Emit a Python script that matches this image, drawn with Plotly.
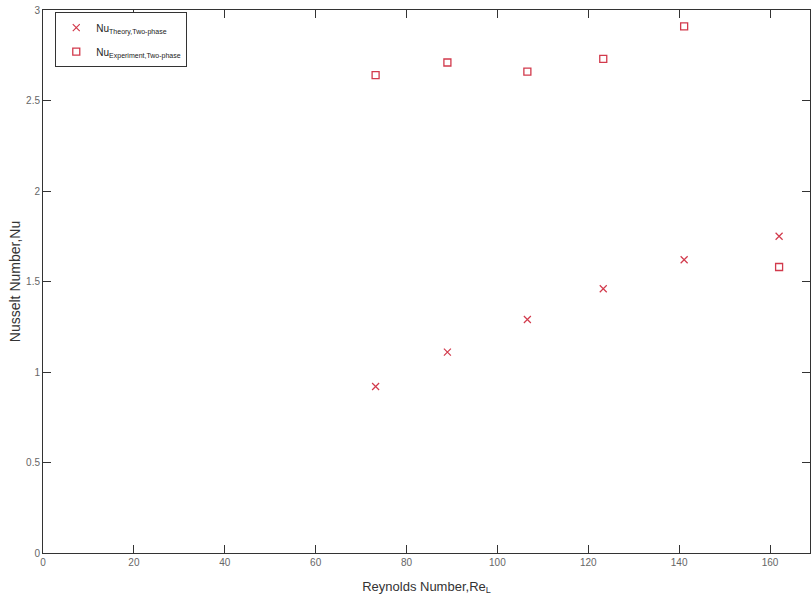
import plotly.graph_objects as go

reynolds = [73.2, 89.0, 106.6, 123.3, 141.1, 162.0]
nu_theory = [0.92, 1.11, 1.29, 1.46, 1.62, 1.75]
nu_experiment = [2.64, 2.71, 2.66, 2.73, 2.91, 1.58]

x_ticks = [0, 20, 40, 60, 80, 100, 120, 140, 160]
y_ticks = [0, 0.5, 1, 1.5, 2, 2.5, 3]
y_tick_text = ["0", "0.5", "1", "1.5", "2", "2.5", "3"]

red = "#d23a4c"
font_fam = "Liberation Sans Narrow, Arial Narrow, Liberation Sans, Arial, sans-serif"

fig = go.Figure()
fig.add_trace(go.Scatter(
    x=reynolds, y=nu_theory, mode="markers",
    name="Nu<sub>Theory,Two-phase</sub>", legendgroup="a",
    marker=dict(symbol="x-thin-open", size=7, color=red, line=dict(color=red, width=1.2)),
))
fig.add_trace(go.Scatter(
    x=reynolds, y=nu_experiment, mode="markers",
    name="Nu<sub>Experiment,Two-phase</sub>", legendgroup="b",
    marker=dict(symbol="square-open", size=7, color=red, line=dict(color=red, width=1.3)),
))

axis_common = dict(
    showgrid=False, zeroline=False, showline=True, linecolor="#333", linewidth=1,
    mirror="ticks", ticks="inside", ticklen=8, tickcolor="#333", tickwidth=1,
    tickfont=dict(family=font_fam, size=10, color="#666"),
    automargin=False,
)

fig.update_layout(
    width=811, height=606,
    margin=dict(l=43, r=1, t=10, b=53),
    paper_bgcolor="white", plot_bgcolor="white",
    showlegend=True,
    legend=dict(
        x=0.016, y=0.996, xanchor="left", yanchor="top",
        bordercolor="#333", borderwidth=1, bgcolor="white",
        font=dict(family=font_fam, size=10, color="#222"),
        tracegroupgap=5, itemwidth=30,
    ),
    xaxis=dict(
        range=[0, 168.8], tickvals=x_ticks,
        title=dict(text="Reynolds Number,Re<sub>L</sub>", font=dict(family=font_fam, size=13, color="#333"), standoff=14),
        **axis_common,
    ),
    yaxis=dict(
        range=[0, 3], tickvals=y_ticks, ticktext=y_tick_text,
        title=dict(text="Nusselt Number,Nu", font=dict(family="Liberation Sans, Arial, sans-serif", size=14, color="#333"), standoff=2),
        **axis_common,
    ),
)

fig.write_html("out.html", config={"displayModeBar": False},
               post_script="document.body.style.margin='0px';")
